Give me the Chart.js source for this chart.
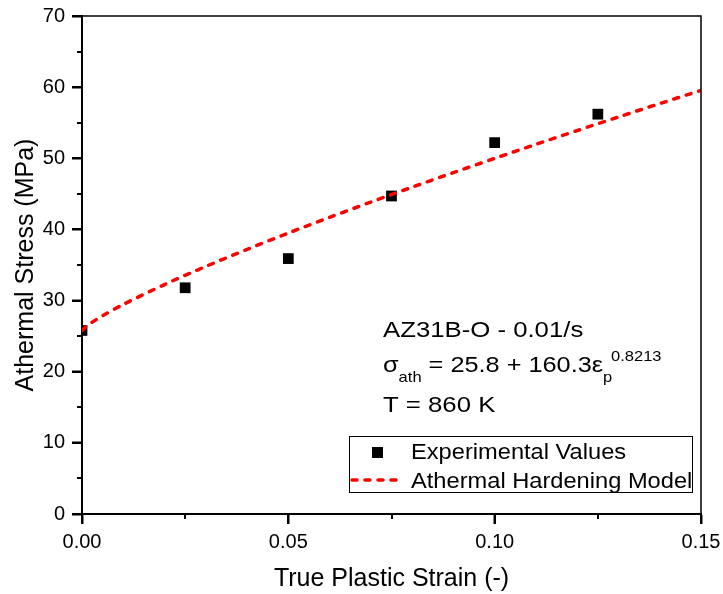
<!DOCTYPE html>
<html>
<head>
<meta charset="utf-8">
<script src="https://cdn.jsdelivr.net/npm/chart.js@4.4.0/dist/chart.umd.min.js"></script>
<style>
  html, body { margin: 0; padding: 0; background: #fff; }
  #wrap { width: 723px; height: 594px; }
</style>
</head>
<body>
<div id="wrap"><canvas id="chart" width="723" height="594"></canvas></div>
<script>
// experimental points
const expStrain = [0, 0.025, 0.05, 0.075, 0.1, 0.125];
const expStress = [25.8, 31.8, 35.9, 44.7, 52.2, 56.2];

// model curve
const modelStrain = [0, 0.001, 0.0025, 0.005, 0.01, 0.02, 0.03, 0.04, 0.05, 0.06, 0.07, 0.08, 0.09, 0.10, 0.11, 0.12, 0.13, 0.14, 0.15];
const modelStress = [25.8, 26.35, 26.97, 27.87, 29.45, 32.25, 34.8, 37.19, 39.49, 41.7, 43.85, 45.94, 47.99, 49.99, 51.96, 53.9, 55.81, 57.69, 59.55];

const xTicks = [0, 0.05, 0.10, 0.15];
const yTicks = [0, 10, 20, 30, 40, 50, 60, 70];

const FONT = "'Liberation Sans', Arial, sans-serif";
const RED = 'rgb(255, 0, 0)';
const DASH = [5, 8];

function pts(xs, ys) {
    return xs.map((x, i) => ({ x: x, y: ys[i] }));
}

// stretched text helper (reference text is a bit wider than Arial)
function wideText(ctx, str, x, y, size, sx) {
    ctx.save();
    ctx.font = size + 'px ' + FONT;
    ctx.translate(x, y);
    ctx.scale(sx, 1);
    ctx.fillText(str, 0, 0);
    const w = ctx.measureText(str).width * sx;
    ctx.restore();
    return w;
}

const framePlugin = {
    id: 'frame',
    afterDraw(chart) {
        const ctx = chart.ctx;
        const a = chart.chartArea;
        const xs = chart.scales.x, ys = chart.scales.y;
        ctx.save();
        ctx.setLineDash([]);
        ctx.strokeStyle = '#000';
        ctx.lineWidth = 1.5;
        ctx.beginPath();
        ctx.moveTo(a.left, a.top);
        ctx.lineTo(a.right, a.top);
        ctx.lineTo(a.right, a.bottom);
        ctx.stroke();

        // major and minor ticks, outward
        ctx.fillStyle = '#000';
        xTicks.forEach((v, i) => {
            const px = Math.round(xs.getPixelForValue(v));
            ctx.fillRect(px - 1, a.bottom, 2, 10);
            if (i < xTicks.length - 1) {
                const pm = Math.round(xs.getPixelForValue((v + xTicks[i + 1]) / 2));
                ctx.fillRect(pm - 1, a.bottom, 2, 5);
            }
        });
        yTicks.forEach((v, i) => {
            const py = Math.round(ys.getPixelForValue(v));
            ctx.fillRect(a.left - 10, py - 1, 10, 2);
            if (i < yTicks.length - 1) {
                const pm = Math.round(ys.getPixelForValue((v + yTicks[i + 1]) / 2));
                ctx.fillRect(a.left - 5, pm - 1, 5, 2);
            }
        });

        // annotation
        ctx.textBaseline = 'alphabetic';
        ctx.textAlign = 'left';
        wideText(ctx, 'AZ31B-O - 0.01/s', 383, 337, 22, 1.17);
        let x = 383;
        x += wideText(ctx, 'σ', x, 372, 22, 1.15);
        x += wideText(ctx, 'ath', x, 382, 15, 1.1);
        x += wideText(ctx, ' = 25.8 + 160.3ε', x, 372, 22, 1.15);
        wideText(ctx, 'p', x, 382, 15, 1.1);
        wideText(ctx, '0.8213', x + 8, 361, 15, 1.1);
        wideText(ctx, 'T = 860 K', 383, 412, 22, 1.17);

        // legend
        ctx.lineWidth = 1;
        ctx.strokeStyle = '#000';
        ctx.strokeRect(349.5, 436.5, 343, 56);
        ctx.fillRect(372, 447, 11, 11);
        wideText(ctx, 'Experimental Values', 411, 459, 21.5, 1.1);
        ctx.strokeStyle = RED;
        ctx.lineWidth = 3.5;
        ctx.lineCap = 'round';
        ctx.setLineDash(DASH);
        ctx.beginPath();
        ctx.moveTo(352, 480);
        ctx.lineTo(398, 480);
        ctx.stroke();
        ctx.setLineDash([]);
        wideText(ctx, 'Athermal Hardening Model', 411, 488, 21.5, 1.1);
        ctx.restore();
    }
};

const ctx = document.getElementById('chart').getContext('2d');
const chart = new Chart(ctx, {
    type: 'scatter',
    data: {
        datasets: [{
            label: 'Athermal Hardening Model',
            data: pts(modelStrain, modelStress),
            showLine: true,
            borderColor: RED,
            borderWidth: 3.5,
            borderDash: DASH,
            borderCapStyle: 'round',
            pointRadius: 0,
            tension: 0.3,
            order: 0
        }, {
            label: 'Experimental Values',
            data: pts(expStrain, expStress),
            showLine: false,
            pointStyle: 'rect',
            pointRadius: 7.6,
            backgroundColor: '#000',
            borderColor: '#000',
            borderWidth: 0,
            order: 1
        }]
    },
    options: {
        responsive: false,
        animation: false,
        events: [],
        layout: { padding: { left: 0, top: 16, right: 22, bottom: 0 } },
        plugins: {
            legend: { display: false },
            tooltip: { enabled: false }
        },
        scales: {
            x: {
                type: 'linear',
                min: 0, max: 0.15,
                afterFit: (s) => { s.height = 80; s.paddingLeft = 0; s.paddingRight = 0; },
                afterBuildTicks: (s) => { s.ticks = xTicks.map(v => ({ value: v })); },
                ticks: {
                    color: '#000',
                    padding: 6,
                    font: { family: FONT, size: 20 },
                    callback: (v) => v.toFixed(2)
                },
                grid: { drawOnChartArea: false, drawTicks: true, tickLength: 10, tickWidth: 2, tickColor: '#000', color: '#000' },
                border: { display: true, color: '#000', width: 2 },
                title: {
                    display: true,
                    text: 'True Plastic Strain (-)',
                    color: '#000',
                    font: { family: FONT, size: 25 },
                    padding: { top: 0, bottom: 0 }
                }
            },
            y: {
                type: 'linear',
                min: 0, max: 70,
                afterFit: (s) => { s.width = 82; s.paddingTop = 0; s.paddingBottom = 0; },
                afterBuildTicks: (s) => { s.ticks = yTicks.map(v => ({ value: v })); },
                ticks: {
                    color: '#000',
                    padding: 7,
                    font: { family: FONT, size: 20 }
                },
                grid: { drawOnChartArea: false, drawTicks: true, tickLength: 10, tickWidth: 2, tickColor: '#000', color: '#000' },
                border: { display: true, color: '#000', width: 2 },
                title: {
                    display: true,
                    text: 'Athermal Stress (MPa)',
                    color: '#000',
                    font: { family: FONT, size: 25 },
                    padding: { top: 11, bottom: 11 }
                }
            }
        }
    },
    plugins: [framePlugin]
});
</script>
</body>
</html>
